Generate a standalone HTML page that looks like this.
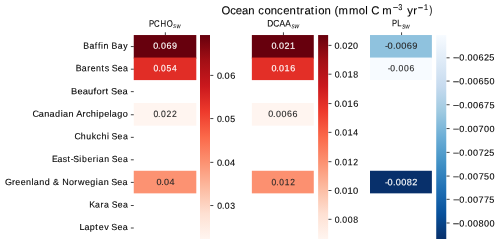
<!DOCTYPE html>
<html><head><meta charset="utf-8"><title>Ocean concentration heatmaps</title><style>
html,body{margin:0;padding:0;background:#fff}
body{width:500px;height:244px;position:relative;overflow:hidden;font-family:"Liberation Sans",sans-serif;color:#000}
.tx text{font-family:"Liberation Sans",sans-serif;text-rendering:geometricPrecision;white-space:pre;fill:#000;stroke:#000;stroke-width:0.100px}
</style></head><body>
<svg class="s" width="500" height="244" viewBox="0 0 500 244" style="position:absolute;left:0;top:0">
<defs>
<linearGradient id="gR" x1="0" y1="0" x2="0" y2="1">
<stop offset="0.0000" stop-color="#67000d"/>
<stop offset="0.1250" stop-color="#a30f15"/>
<stop offset="0.2500" stop-color="#ca181d"/>
<stop offset="0.3750" stop-color="#ee3a2c"/>
<stop offset="0.5000" stop-color="#fb694a"/>
<stop offset="0.6250" stop-color="#fc9272"/>
<stop offset="0.7500" stop-color="#fcbba1"/>
<stop offset="0.8750" stop-color="#fee0d2"/>
<stop offset="1.0000" stop-color="#fff5f0"/>
</linearGradient>
<linearGradient id="gB" x1="0" y1="0" x2="0" y2="1">
<stop offset="0.0000" stop-color="#f7fbff"/>
<stop offset="0.1250" stop-color="#dfebf7"/>
<stop offset="0.2500" stop-color="#c7dbef"/>
<stop offset="0.3750" stop-color="#9fcae1"/>
<stop offset="0.5000" stop-color="#6caed6"/>
<stop offset="0.6250" stop-color="#4292c6"/>
<stop offset="0.7500" stop-color="#2171b5"/>
<stop offset="0.8750" stop-color="#08519c"/>
<stop offset="1.0000" stop-color="#08306b"/>
</linearGradient>
</defs>
<rect x="133.75" y="35.04" width="62.55" height="23.52" fill="#67000d"/>
<rect x="133.75" y="57.56" width="62.55" height="22.54" fill="#e12d26"/>
<rect x="133.75" y="103.00" width="62.55" height="22.67" fill="#fff5f0"/>
<rect x="133.75" y="170.77" width="62.55" height="22.58" fill="#fc9272"/>
<rect x="200.00" y="35.04" width="10.00" height="203.96" fill="url(#gR)"/>
<rect x="251.86" y="35.04" width="61.91" height="23.52" fill="#67000d"/>
<rect x="251.86" y="57.56" width="61.91" height="22.54" fill="#e32f27"/>
<rect x="251.86" y="103.00" width="61.91" height="22.67" fill="#fff5f0"/>
<rect x="251.86" y="170.77" width="61.91" height="22.58" fill="#fc9070"/>
<rect x="318.13" y="35.04" width="10.01" height="203.96" fill="url(#gR)"/>
<rect x="370.00" y="35.04" width="61.88" height="23.52" fill="#8fc2de"/>
<rect x="370.00" y="57.56" width="61.88" height="22.54" fill="#f7fbff"/>
<rect x="370.00" y="170.77" width="61.88" height="22.58" fill="#08306b"/>
<rect x="436.23" y="35.04" width="10.04" height="203.96" fill="url(#gB)"/>
<path d="M165.330 32.300V35.040M210.300 205.540H213.338M210.300 162.370H213.338M210.300 118.570H213.338M210.300 75.400H213.338M283.430 32.300V35.040M328.440 219.320H331.478M328.440 190.510H331.478M328.440 161.680H331.478M328.440 132.360H331.478M328.440 103.550H331.478M328.440 74.200H331.478M328.440 45.390H331.478M401.570 32.300V35.040M446.570 222.990H449.608M446.570 199.320H449.608M446.570 176.070H449.608M446.570 152.380H449.608M446.570 128.570H449.608M446.570 104.740H449.608M446.570 81.070H449.608M446.570 57.820H449.608M130.850 46.570H133.750M130.850 69.200H133.750M130.850 91.640H133.750M130.850 114.760H133.750M130.850 137.350H133.750M130.850 159.800H133.750M130.850 182.400H133.750M130.850 205.530H133.750M130.850 228.010H133.750" stroke="#000" stroke-width="0.740" fill="none"/>
</svg>
<svg class="tx" width="500" height="244" viewBox="0 0 500 244" style="position:absolute;left:0;top:0"><g style="filter:grayscale(1)">
<text y="-0.000 -0.009 -0.014 -0.023 -0.033" x="0.11 4.93 7.98 13.43 18.96" transform="translate(153.064 48.662) skewY(0.1) scale(0.9951 1)" font-size="9.019" style="fill:#ffffff;stroke:#ffffff">0.069</text>
<text y="-0.000 -0.009 -0.013 -0.023 -0.032" x="0.10 5.26 8.22 14.09 19.93" transform="translate(153.322 71.148) skewY(0.1) scale(0.9339 1)" font-size="9.109" style="fill:#ffffff;stroke:#ffffff">0.054</text>
<text y="-0.000 -0.008 -0.014 -0.023 -0.033" x="0.26 5.21 8.53 14.43 20.45" transform="translate(153.197 116.904) skewY(0.1) scale(0.9171 1)" font-size="9.384" style="fill:#262626;stroke:#262626">0.022</text>
<text y="0.000 -0.008 -0.013 -0.023" x="-0.05 4.73 7.49 12.89" transform="translate(156.475 184.895) skewY(0.1) scale(1.0054 1)" font-size="9.019" style="fill:#262626;stroke:#262626">0.04</text>
<text y="-0.000 -0.011 -0.021 -0.026 -0.031 -0.036 -0.045 -0.050 -0.061 -0.070" x="0.13 6.81 12.17 15.48 18.60 21.04 26.78 29.52 35.99 41.67" transform="translate(83.026 48.642) skewY(0.1) scale(0.9678 1)" font-size="9.045">Baffin Bay</text>
<text y="-0.000 -0.011 -0.020 -0.026 -0.035 -0.045 -0.051 -0.059 -0.063 -0.073 -0.083" x="0.00 6.27 12.03 15.69 21.13 26.91 30.26 35.22 37.56 43.80 49.31" transform="translate(75.638 71.166) skewY(0.1) scale(0.9599 1)" font-size="9.227">Barents Sea</text>
<text y="0.001 -0.011 -0.020 -0.029 -0.039 -0.044 -0.054 -0.060 -0.066 -0.069 -0.080 -0.089" x="-0.32 5.86 10.87 15.83 21.05 23.88 29.14 32.42 36.16 37.66 43.56 48.57" transform="translate(71.260 94.162) skewY(0.1) scale(1.0536 1)" font-size="8.869">Beaufort Sea</text>
<text y="0.000 -0.011 -0.020 -0.030 -0.039 -0.049 -0.053 -0.063 -0.072 -0.076 -0.087 -0.093 -0.102 -0.111 -0.116 -0.125 -0.134 -0.138 -0.148 -0.158" x="-0.05 6.05 11.36 16.53 21.82 27.50 29.65 34.96 40.35 42.49 48.56 52.01 56.67 62.00 64.42 69.76 74.89 77.10 82.39 87.80" transform="translate(32.508 116.638) skewY(0.1) scale(1.0282 1)" font-size="8.869">Canadian Archipelago</text>
<text y="-0.000 -0.011 -0.021 -0.031 -0.039 -0.048 -0.057 -0.063 -0.065 -0.075 -0.085" x="0.25 6.59 12.12 17.69 22.57 27.62 33.10 36.37 37.67 43.72 49.37" transform="translate(74.173 139.171) skewY(0.1) scale(0.9890 1)" font-size="8.869">Chukchi Sea</text>
<text y="-0.000 -0.010 -0.019 -0.027 -0.033 -0.037 -0.048 -0.053 -0.062 -0.071 -0.077 -0.082 -0.091 -0.101 -0.104 -0.115 -0.124" x="0.07 5.82 11.22 16.10 19.45 22.03 28.16 31.00 36.65 42.09 45.69 48.25 53.86 59.41 61.57 67.82 73.17" transform="translate(51.861 161.898) skewY(0.1) scale(0.9717 1)" font-size="8.957">East-Siberian Sea</text>
<text y="-0.000 -0.012 -0.018 -0.028 -0.037 -0.047 -0.050 -0.060 -0.070 -0.080 -0.084 -0.096 -0.100 -0.112 -0.121 -0.128 -0.140 -0.149 -0.159 -0.163 -0.173 -0.182 -0.186 -0.196 -0.205" x="0.11 7.02 10.16 15.61 20.75 26.20 28.40 33.76 39.20 44.92 47.29 53.97 56.38 63.02 68.25 71.89 78.76 83.93 89.36 91.75 97.22 102.48 104.58 110.48 115.68" transform="translate(4.825 184.880) skewY(0.1) scale(1.0169 1)" font-size="8.869">Greenland &amp; Norwegian Sea</text>
<text y="0.000 -0.010 -0.019 -0.025 -0.035 -0.039 -0.050 -0.059" x="-0.13 5.67 11.26 14.79 20.33 22.72 28.79 34.06" transform="translate(89.362 207.417) skewY(0.1) scale(0.9855 1)" font-size="8.869">Kara Sea</text>
<text y="0.000 -0.009 -0.018 -0.028 -0.034 -0.043 -0.052 -0.056 -0.066 -0.076" x="-0.01 4.94 10.06 15.40 18.78 24.21 29.12 31.06 37.10 42.26" transform="translate(79.423 229.909) skewY(0.1) scale(1.0252 1)" font-size="8.780">Laptev Sea</text>
<text y="-0.000 -0.009 -0.013 -0.023" x="0.19 5.15 7.99 13.63" transform="translate(217.000 208.636) skewY(0.1) scale(0.9647 1)" font-size="8.965">0.03</text>
<text y="-0.000 -0.008 -0.013 -0.023" x="0.01 4.72 7.39 12.67" transform="translate(216.878 165.652) skewY(0.1) scale(1.0271 1)" font-size="9.056">0.04</text>
<text y="0.000 -0.008 -0.013 -0.023" x="-0.15 4.63 7.64 13.14" transform="translate(217.041 121.895) skewY(0.1) scale(0.9991 1)" font-size="8.875">0.05</text>
<text y="0.000 -0.008 -0.013 -0.023" x="-0.02 4.69 7.42 13.07" transform="translate(216.906 78.651) skewY(0.1) scale(1.0126 1)" font-size="9.056">0.06</text>
<text y="0.000 -0.008 -0.013 -0.023 -0.032" x="-0.06 4.73 7.51 12.91 18.50" transform="translate(271.477 48.635) skewY(0.1) scale(1.0010 1)" font-size="9.019" style="fill:#ffffff;stroke:#ffffff">0.021</text>
<text y="0.000 -0.008 -0.013 -0.023 -0.033" x="-0.06 4.74 7.53 13.02 18.80" transform="translate(271.436 71.143) skewY(0.1) scale(0.9985 1)" font-size="9.018" style="fill:#ffffff;stroke:#ffffff">0.016</text>
<text y="0.000 -0.008 -0.013 -0.023 -0.032 -0.042" x="-0.13 4.69 7.71 13.27 18.74 24.30" transform="translate(268.297 116.872) skewY(0.1) scale(0.9925 1)" font-size="9.019" style="fill:#262626;stroke:#262626">0.0066</text>
<text y="-0.000 -0.008 -0.014 -0.023 -0.033" x="0.13 5.21 8.51 14.42 20.28" transform="translate(271.316 185.168) skewY(0.1) scale(0.9289 1)" font-size="9.109" style="fill:#262626;stroke:#262626">0.012</text>
<text y="0.000 -0.008 -0.013 -0.023 -0.032" x="-0.04 4.84 7.77 13.50 19.22" transform="translate(334.722 222.650) skewY(0.1) scale(0.9643 1)" font-size="9.056">0.008</text>
<text y="-0.000 -0.008 -0.013 -0.023 -0.032" x="0.00 4.69 7.35 12.66 18.02" transform="translate(334.405 193.669) skewY(0.1) scale(1.0314 1)" font-size="9.056">0.010</text>
<text y="-0.000 -0.009 -0.013 -0.023 -0.033" x="0.26 5.31 8.22 14.16 19.96" transform="translate(334.433 165.148) skewY(0.1) scale(0.9396 1)" font-size="9.237">0.012</text>
<text y="-0.000 -0.008 -0.013 -0.023 -0.032" x="0.07 5.01 7.85 13.66 19.34" transform="translate(334.594 135.411) skewY(0.1) scale(0.9615 1)" font-size="9.056">0.014</text>
<text y="-0.000 -0.008 -0.013 -0.023 -0.033" x="0.03 4.65 7.43 12.78 18.37" transform="translate(334.417 106.647) skewY(0.1) scale(1.0237 1)" font-size="9.056">0.016</text>
<text y="0.000 -0.008 -0.013 -0.023 -0.032" x="-0.05 4.61 7.67 13.44 19.08" transform="translate(334.752 77.408) skewY(0.1) scale(0.9687 1)" font-size="9.056">0.018</text>
<text y="-0.000 -0.009 -0.014 -0.023 -0.033" x="0.11 5.11 7.90 13.42 18.67" transform="translate(334.326 48.647) skewY(0.1) scale(0.9983 1)" font-size="9.056">0.020</text>
<text y="0.001 -0.004 -0.013 -0.018 -0.028 -0.037 -0.047" x="-0.33 2.12 7.38 10.04 15.39 20.73 26.05" transform="translate(385.278 48.649) skewY(0.1) scale(1.0334 1)" font-size="9.019" style="fill:#262626;stroke:#262626">-0.0069</text>
<text y="-0.001 -0.005 -0.014 -0.020 -0.029 -0.039" x="0.51 3.20 8.58 11.76 17.54 23.33" transform="translate(387.181 71.132) skewY(0.1) scale(0.9553 1)" font-size="9.019" style="fill:#262626;stroke:#262626">-0.006</text>
<text y="-0.000 -0.004 -0.014 -0.019 -0.028 -0.038 -0.048" x="0.07 2.50 7.97 10.72 16.20 21.59 27.05" transform="translate(384.892 185.154) skewY(0.1) scale(1.0074 1)" font-size="9.109" style="fill:#ffffff;stroke:#ffffff">-0.0082</text>
<text y="0.997 -0.011 -0.021 -0.025 -0.035 -0.045 -0.054 -0.064" x="-0.00 6.29 11.78 14.54 20.04 25.45 30.95 36.46" transform="translate(452.851 226.404) skewY(0.1) scale(1.0034 1)" font-size="9.146"><tspan font-size="11.143">−</tspan>0.00800</text>
<text y="0.747 -0.011 -0.020 -0.025 -0.035 -0.044 -0.054 -0.063" x="-0.14 6.05 11.31 14.00 19.36 24.71 30.08 35.13" transform="translate(453.007 202.639) skewY(0.1) scale(1.0295 1)" font-size="8.875"><tspan font-size="10.861">−</tspan>0.00775</text>
<text y="1.023 -0.011 -0.021 -0.026 -0.035 -0.045 -0.054 -0.064" x="-0.20 6.23 11.63 14.38 19.81 25.47 30.63 36.00" transform="translate(452.816 179.407) skewY(0.1) scale(1.0170 1)" font-size="8.875"><tspan font-size="10.939">−</tspan>0.00750</text>
<text y="1.041 -0.011 -0.020 -0.025 -0.035 -0.045 -0.054 -0.063" x="-0.27 5.93 11.33 14.07 19.50 25.11 30.25 35.46" transform="translate(453.109 155.644) skewY(0.1) scale(1.0173 1)" font-size="8.875"><tspan font-size="10.991">−</tspan>0.00725</text>
<text y="0.781 -0.012 -0.022 -0.027 -0.036 -0.046 -0.055 -0.065" x="0.44 6.81 12.18 14.89 20.28 25.65 30.96 36.35" transform="translate(452.192 131.912) skewY(0.1) scale(1.0247 1)" font-size="8.875"><tspan font-size="10.967">−</tspan>0.00700</text>
<text y="0.738 -0.011 -0.021 -0.026 -0.035 -0.045 -0.054 -0.064" x="-0.13 6.19 11.53 14.21 19.56 24.91 30.25 35.49" transform="translate(452.756 108.154) skewY(0.1) scale(1.0320 1)" font-size="8.875"><tspan font-size="10.834">−</tspan>0.00675</text>
<text y="1.277 -0.011 -0.021 -0.025 -0.035 -0.045 -0.054 -0.064" x="-0.22 6.31 11.82 14.61 20.13 25.66 31.16 36.62" transform="translate(452.882 84.158) skewY(0.1) scale(0.9990 1)" font-size="9.056"><tspan font-size="11.137">−</tspan>0.00650</text>
<text y="1.008 -0.011 -0.021 -0.025 -0.035 -0.044 -0.054 -0.063" x="0.14 6.21 11.67 14.42 19.79 25.27 30.73 35.98" transform="translate(452.949 60.385) skewY(0.1) scale(1.0088 1)" font-size="9.056"><tspan font-size="11.084">−</tspan>0.00625</text>
<text y="-0.000 -0.009 -0.020 -0.032" x="0.30 6.38 14.04 21.86" transform="translate(148.801 26.660) skewY(0.1) scale(0.8268 1)" font-size="9.397">PCHO</text>
<text y="-0.000 -0.006" x="0.03 4.14" transform="translate(173.115 28.120) skewY(0.1) scale(0.8016 1)" font-size="6.989" font-style="italic" style="stroke:none">sw</text>
<text y="-0.001 -0.011 -0.022 -0.032" x="0.53 7.27 14.31 20.91" transform="translate(266.745 26.545) skewY(0.1) scale(0.8904 1)" font-size="9.392">DCAA</text>
<text y="0.001 -0.004" x="-0.80 2.72" transform="translate(292.129 28.152) skewY(0.1) scale(0.8998 1)" font-size="7.056" font-style="italic" style="stroke:none">sw</text>
<text y="0.000 -0.009" x="-0.06 6.50" transform="translate(391.915 26.314) skewY(0.1) scale(0.8087 1)" font-size="9.489">PL</text>
<text y="-0.000 -0.005" x="0.04 3.70" transform="translate(402.195 28.617) skewY(0.1) scale(0.8346 1)" font-size="7.348" font-style="italic" style="stroke:none">sw</text>
<text y="0.001 -0.014 -0.024 -0.035 -0.046 -0.058 -0.064 -0.074 -0.085 -0.096 -0.107 -0.118 -0.130 -0.136 -0.144 -0.155 -0.163 -0.168 -0.179 -0.190 -0.197 -0.203 -0.222 -0.239 -0.250 -0.257 -0.261 -0.275 -0.280" x="-0.41 8.31 13.86 20.10 26.37 33.16 36.42 42.64 48.90 55.19 61.35 67.61 74.63 78.14 82.69 88.89 93.24 96.47 102.74 108.68 112.72 116.67 127.21 136.99 143.45 147.59 149.44 157.74 160.51" transform="translate(221.861 14.236) skewY(0.1) scale(0.9991 1)" font-size="11.320">Ocean concentration (mmol C m</text>
<text y="0.950 -0.009" x="-0.15 6.12" transform="translate(392.881 9.967) skewY(0.1) scale(0.8637 1)" font-size="8.560"><tspan font-size="11.056">−</tspan>3</text>
<text y="-0.000 -0.011" x="0.23 6.08" transform="translate(406.949 14.159) skewY(0.1) scale(1.0267 1)" font-size="11.088">yr</text>
<text y="1.068 -0.012" x="0.31 7.59" transform="translate(417.464 10.100) skewY(0.1) scale(0.8723 1)" font-size="8.307"><tspan font-size="10.690">−</tspan>1</text>
<text y="-0.000" x="0.16" transform="translate(429.283 13.397) skewY(0.1) scale(0.7444 1)" font-size="11.095">)</text>
</g></svg>
</body></html>
